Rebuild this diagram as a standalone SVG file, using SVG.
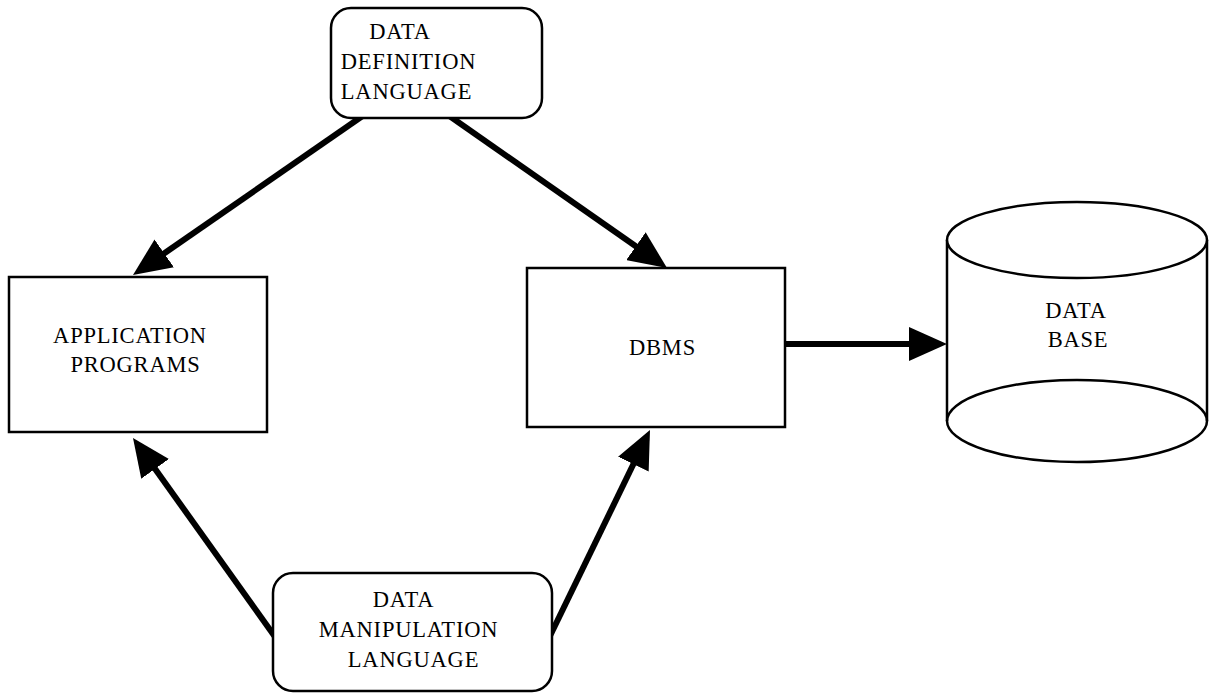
<svg xmlns="http://www.w3.org/2000/svg" width="1218" height="694" viewBox="0 0 1218 694">
  <style>
    .box { fill: #ffffff; stroke: #000000; stroke-width: 2.5; }
    .label { font-family: "Liberation Serif", "Times New Roman", serif; font-size: 22.5px; letter-spacing: 0.8px; fill: #000000; text-anchor: middle; }
    .flow { fill: none; stroke: #000000; stroke-width: 6; }
  </style>
  <defs>
    <marker id="head" markerUnits="userSpaceOnUse" viewBox="0 0 38 34" markerWidth="38" markerHeight="34" refX="6" refY="17" orient="auto">
      <path d="M0,0 L38,17 L0,34 z" fill="#000000"/>
    </marker>
  </defs>
  <rect width="1218" height="694" fill="#ffffff"/>

  <!-- connectors: drawn first so each line starts tucked under its source box -->
  <g id="connectors">
    <path class="flow" d="M364,115 L159.3,256.8" marker-end="url(#head)"/>
    <path class="flow" d="M448,115 L640.8,249.7" marker-end="url(#head)"/>
    <path class="flow" d="M278,641 L151.6,464" marker-end="url(#head)"/>
    <path class="flow" d="M549,638 L636,458.8" marker-end="url(#head)"/>
    <path class="flow" d="M780,344 L915,344" marker-end="url(#head)"/>
  </g>

  <g id="ddl">
    <rect class="box" x="331" y="8" width="211" height="110" rx="20" ry="20"/>
    <text class="label" x="400" y="39">DATA</text>
    <text class="label" x="408.5" y="69">DEFINITION</text>
    <text class="label" x="406.5" y="99">LANGUAGE</text>
  </g>

  <g id="app">
    <rect class="box" x="9" y="277" width="258" height="155"/>
    <text class="label" x="130" y="343">APPLICATION</text>
    <text class="label" x="135.5" y="372">PROGRAMS</text>
  </g>

  <g id="dbms">
    <rect class="box" x="527" y="268" width="258" height="159"/>
    <text class="label" x="662.5" y="355">DBMS</text>
  </g>

  <g id="database">
    <path class="box" d="M947,240 L947,421 A130,41 0 0 0 1207,421 L1207,240"/>
    <path fill="none" stroke="#000000" stroke-width="2.5" d="M947,421 A130,41 0 0 1 1207,421"/>
    <ellipse class="box" cx="1077" cy="240" rx="130" ry="38"/>
    <text class="label" x="1076" y="318">DATA</text>
    <text class="label" x="1078" y="347">BASE</text>
  </g>

  <g id="dml">
    <rect class="box" x="273" y="573" width="279" height="118" rx="20" ry="20"/>
    <text class="label" x="403.5" y="607">DATA</text>
    <text class="label" x="408.5" y="637">MANIPULATION</text>
    <text class="label" x="413.5" y="667">LANGUAGE</text>
  </g>
</svg>
